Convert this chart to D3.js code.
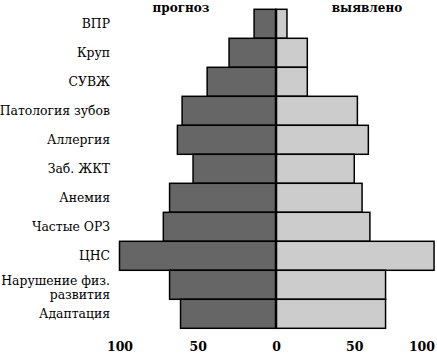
<!DOCTYPE html>
<html><head><meta charset="utf-8">
<script src="https://cdn.jsdelivr.net/npm/d3@7"></script>
<style>body{margin:0;background:#fff}svg{display:block}</style>
</head><body>
<svg id="c" width="437" height="357"></svg>
<script>
const categories = ["ВПР","Круп","СУВЖ","Патология зубов","Аллергия","Заб. ЖКТ","Анемия","Частые ОРЗ","ЦНС","Нарушение физ.|развития","Адаптация"];
const prognoz = [14,30,44,60,63,53,68,72,100,68,61];
const vyyavleno = [7,20,20,52,59,50,55,60,101,70,70];
const seriesNames = ["прогноз","выявлено"];
const tickValues = [0,50,100];

const svg = d3.select("#c");
const font = "'DejaVu Serif', serif";
const cx = 276;
const y = d3.scaleBand().domain(categories).range([9.3,328.3]).padding(0);
const xL = d3.scaleLinear().domain([0,100]).range([cx,119.5]);
const xR = d3.scaleLinear().domain([0,100]).range([cx,432.5]);

const g = svg.append("g");
g.selectAll("rect.l").data(categories).join("rect")
  .attr("x",(d,i)=>xL(prognoz[i])).attr("y",d=>y(d))
  .attr("width",(d,i)=>cx-xL(prognoz[i])).attr("height",y.bandwidth())
  .attr("fill","#666666").attr("stroke","#000").attr("stroke-width",1.5);
g.selectAll("rect.r").data(categories).join("rect")
  .attr("x",cx).attr("y",d=>y(d))
  .attr("width",(d,i)=>xR(vyyavleno[i])-cx).attr("height",y.bandwidth())
  .attr("fill","#cccccc").attr("stroke","#000").attr("stroke-width",1.5);
g.append("line").attr("x1",cx).attr("x2",cx).attr("y1",y.range()[0]).attr("y2",y.range()[1])
  .attr("stroke","#000").attr("stroke-width",2.5);

// category labels
const lab = svg.append("g").attr("font-family",font).attr("font-size",12.4).attr("fill","#000");
categories.forEach(c=>{
  const lines = c.split("|");
  const cy = y(c)+y.bandwidth()/2;
  const lh = 14.5;
  const top = lines.length > 1 ? cy - 0.3 : cy + 4.3;
  lines.forEach((t,k)=>{
    lab.append("text").attr("x",110).attr("y",top + k*lh)
      .attr("text-anchor","end").text(t);
  });
});

// axes
const axL = svg.append("g").attr("transform","translate(0,339)")
  .call(d3.axisBottom(xL).tickValues(tickValues).tickSize(0).tickFormat(d3.format("d")));
const axR = svg.append("g").attr("transform","translate(0,339)")
  .call(d3.axisBottom(xR).tickValues(tickValues.filter(v=>v>0)).tickSize(0).tickFormat(d3.format("d")));
[axL,axR].forEach(a=>{
  a.select(".domain").remove();
  a.selectAll("text").attr("font-family",font).attr("font-size",12.5).attr("font-weight","bold").attr("fill","#000");
});
axR.selectAll(".tick").filter(d=>d===100).select("text").attr("text-anchor","end").attr("x",2);

// series titles
svg.append("text").attr("x",181).attr("y",12).attr("text-anchor","middle")
  .attr("font-family",font).attr("font-size",12).attr("font-weight","bold").text(seriesNames[0]);
svg.append("text").attr("x",367).attr("y",12).attr("text-anchor","middle")
  .attr("font-family",font).attr("font-size",12).attr("font-weight","bold").text(seriesNames[1]);
</script>
</body></html>
